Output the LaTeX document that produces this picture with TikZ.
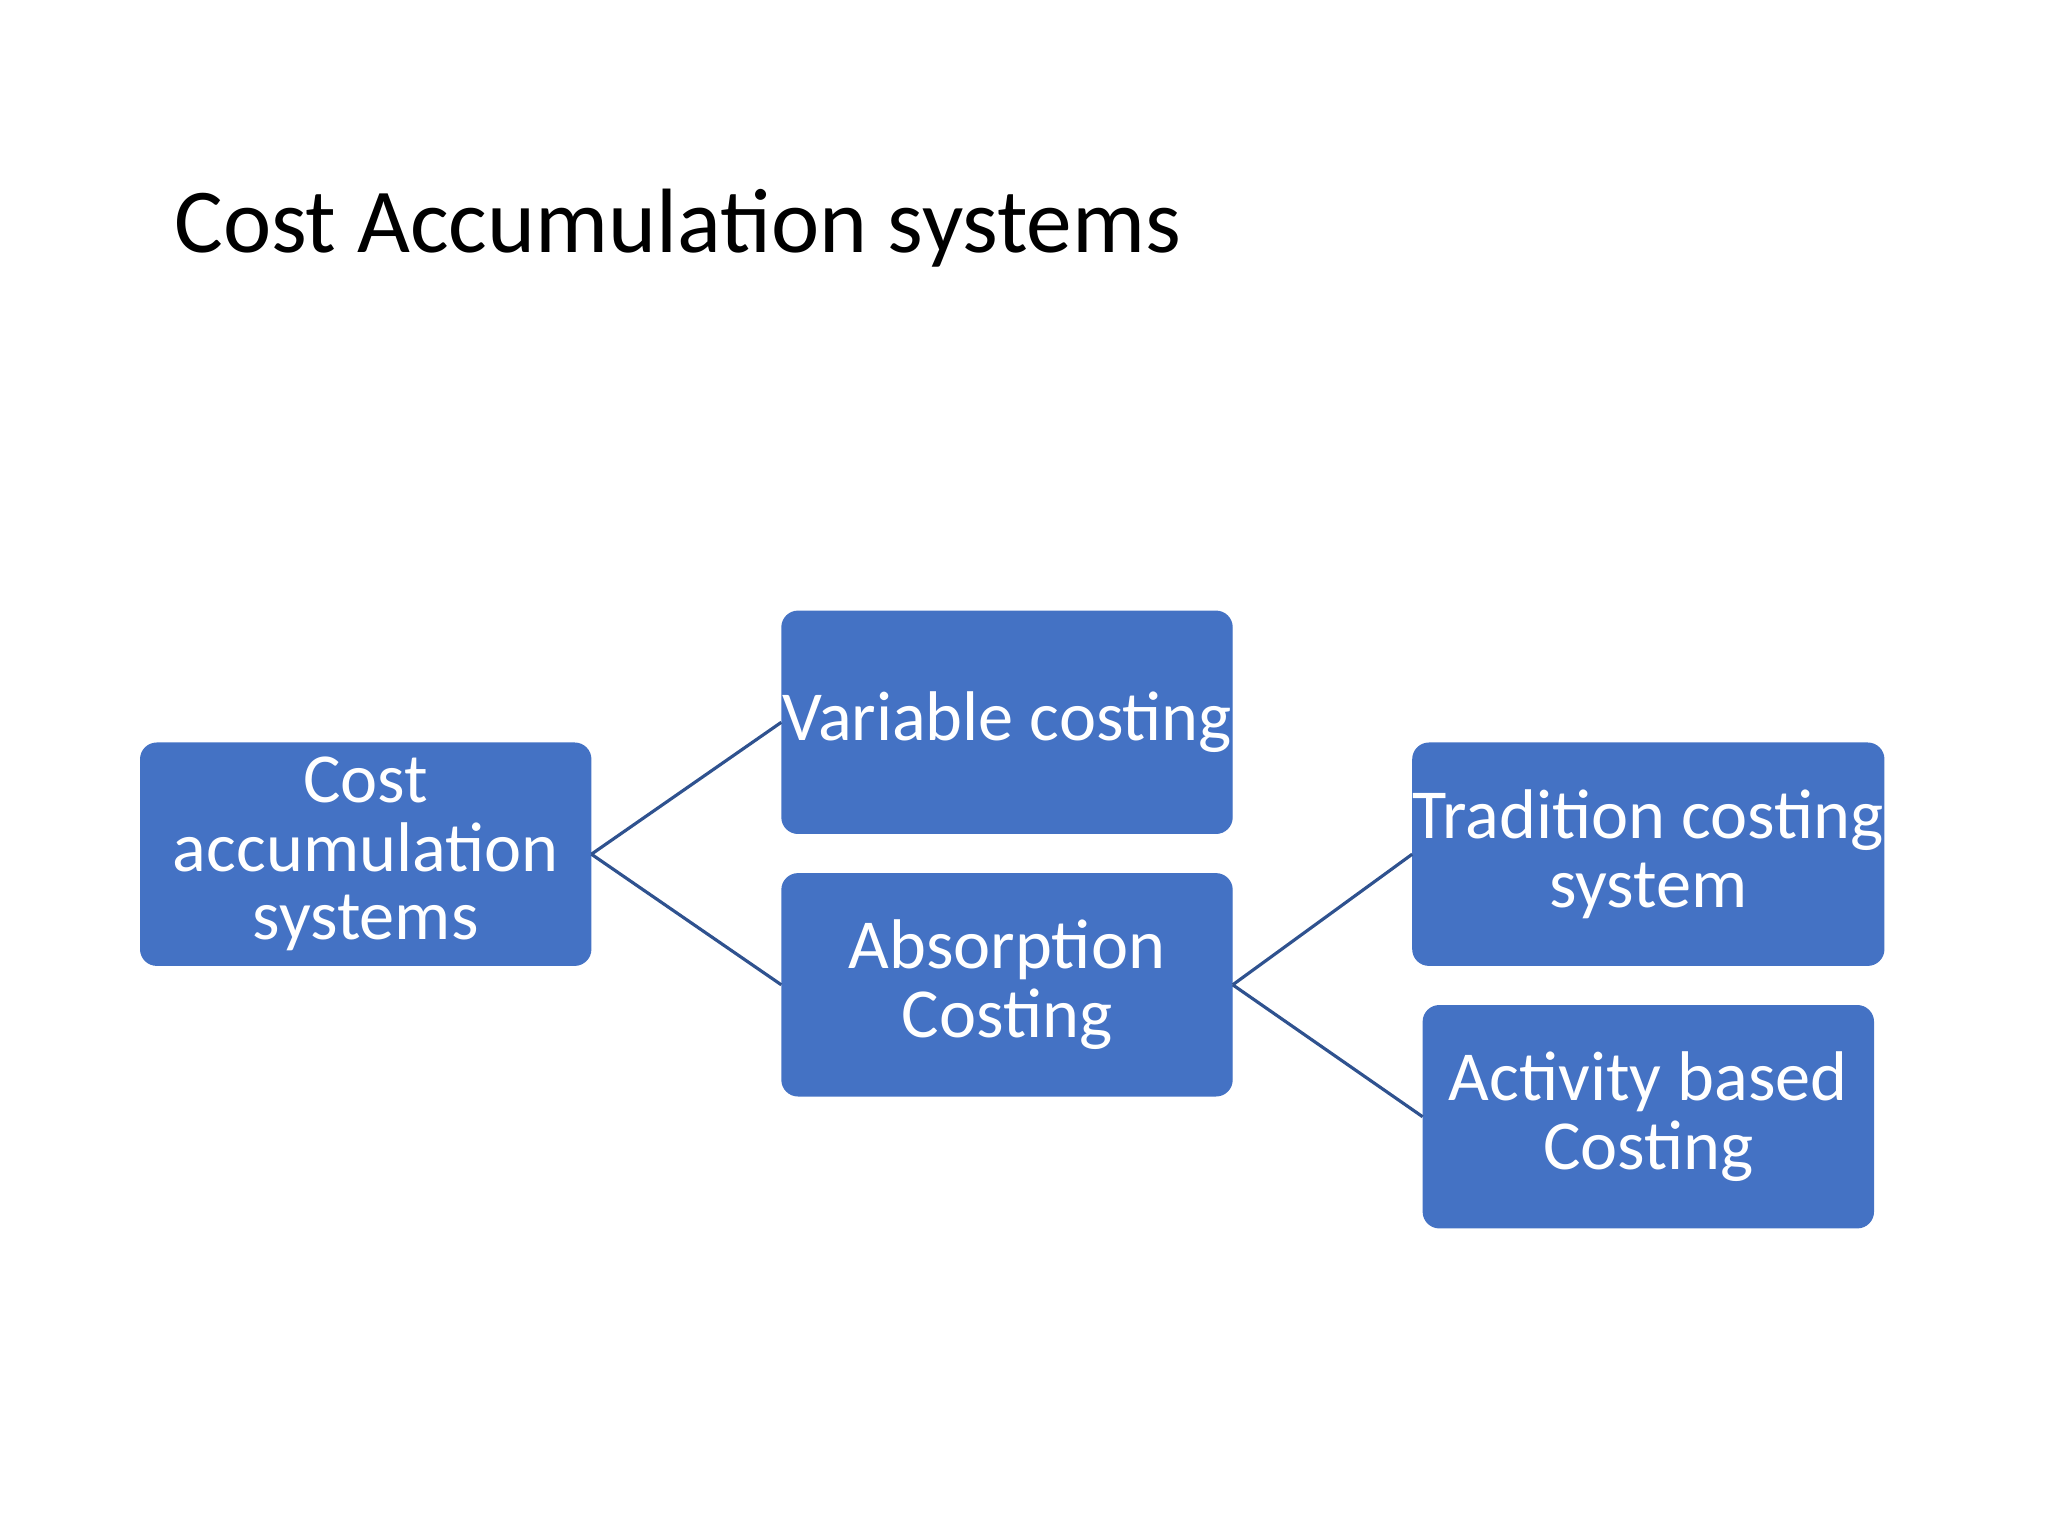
\documentclass[tikz,border=0pt]{standalone}
\usepackage{fontspec}
\setmainfont{Carlito}
\definecolor{boxblue}{HTML}{4472C4}
\definecolor{lineblue}{HTML}{2F528F}
\begin{document}
\begin{tikzpicture}[x=0.01306cm,y=-0.01306cm,
  cbox/.style={fill=boxblue,draw=boxblue,rounded corners=0.16cm,minimum width=4.5cm,minimum height=2.22cm,text=white,align=center,font=\fontsize{20}{19.5}\selectfont,inner sep=0pt},
  conn/.style={draw=lineblue,line width=0.9pt}]
\useasboundingbox (0,0) rectangle (1568,1176);
\node[anchor=base west,font=\fontsize{26}{30}\selectfont] (title) at (124,193) {Cost Accumulation systems};
\node[cbox] (a) at (280,654) {Cost\\accumulation\\systems};
\node[cbox] (b) at (771,553) {Variable costing};
\node[cbox] (c) at (771,754) {Absorption\\Costing};
\node[cbox] (d) at (1262,654) {Tradition costing\\system};
\node[cbox] (e) at (1262,855) {Activity based\\Costing};
\draw[conn] (a.east) -- (b.west);
\draw[conn] (a.east) -- (c.west);
\draw[conn] (c.east) -- (d.west);
\draw[conn] (c.east) -- (e.west);
\end{tikzpicture}
\end{document}
